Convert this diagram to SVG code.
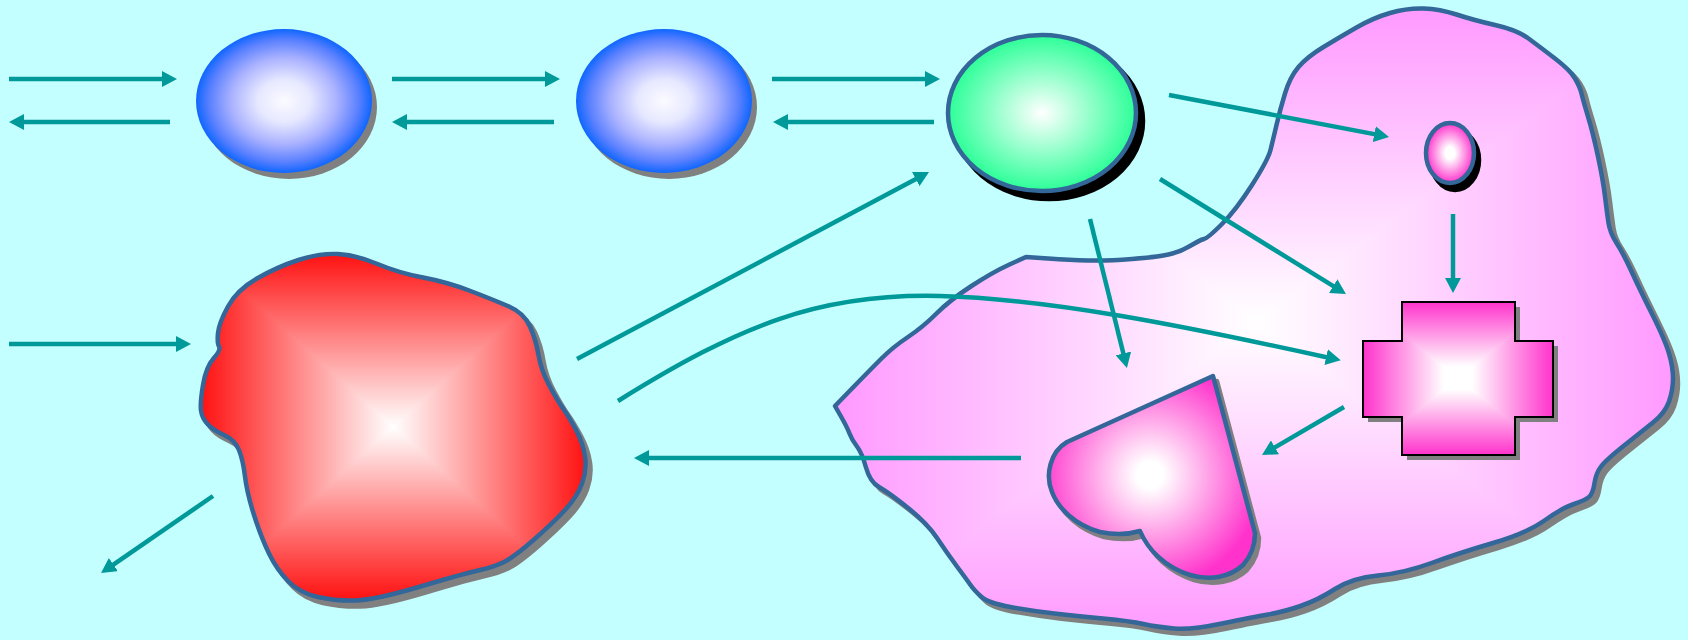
<svg xmlns="http://www.w3.org/2000/svg" xmlns:xlink="http://www.w3.org/1999/xlink" width="1688" height="640" viewBox="0 0 1688 640">
  <style>
    .arrow { fill: none; stroke: #009999; stroke-width: 4.5; marker-end: url(#head); }
    .outline { fill: none; stroke: #336699; stroke-width: 4.5; stroke-linejoin: round; }
    .shade { fill: #808080; stroke: #808080; stroke-width: 4.5; stroke-linejoin: round; }
    .shade-dark { fill: #000000; stroke: #000000; stroke-width: 4.5; }
    .facet { shape-rendering: crispEdges; }
  </style>
  <defs>
    <!-- arrowhead shared by all connectors -->
    <marker id="head" markerUnits="userSpaceOnUse" markerWidth="16" markerHeight="16" refX="4" refY="8" orient="auto">
      <path d="M0,0 L15,8 L0,16 z" fill="#009999"/>
    </marker>

    <!-- radial fills -->
    <radialGradient id="gBlue">
      <stop offset="0" stop-color="#fbfbff"/>
      <stop offset="0.3" stop-color="#e6e8ff"/>
      <stop offset="0.6" stop-color="#aab2ff"/>
      <stop offset="0.85" stop-color="#5a80ff"/>
      <stop offset="1" stop-color="#0f66ff"/>
    </radialGradient>
    <radialGradient id="gGreen">
      <stop offset="0" stop-color="#ffffff"/>
      <stop offset="1" stop-color="#2cff98"/>
    </radialGradient>
    <radialGradient id="gNucleus">
      <stop offset="0" stop-color="#ffffff"/>
      <stop offset="0.2" stop-color="#ffffff"/>
      <stop offset="1" stop-color="#ff33cc"/>
    </radialGradient>
    <radialGradient id="gHeart" gradientUnits="userSpaceOnUse" cx="1150" cy="475" r="112">
      <stop offset="0" stop-color="#ffffff"/>
      <stop offset="0.12" stop-color="#ffffff"/>
      <stop offset="1" stop-color="#ff33cc"/>
    </radialGradient>

    <!-- four-sided "from centre" fills: edge colour fading to white -->
    <linearGradient id="rT" x1="0" y1="0" x2="0" y2="1"><stop offset="0" stop-color="#ff1010"/><stop offset="1" stop-color="#ffffff"/></linearGradient>
    <linearGradient id="rB" x1="0" y1="1" x2="0" y2="0"><stop offset="0" stop-color="#ff1010"/><stop offset="1" stop-color="#ffffff"/></linearGradient>
    <linearGradient id="rL" x1="0" y1="0" x2="1" y2="0"><stop offset="0" stop-color="#ff1010"/><stop offset="1" stop-color="#ffffff"/></linearGradient>
    <linearGradient id="rR" x1="1" y1="0" x2="0" y2="0"><stop offset="0" stop-color="#ff1010"/><stop offset="1" stop-color="#ffffff"/></linearGradient>

    <linearGradient id="pT" x1="0" y1="0" x2="0" y2="1"><stop offset="0" stop-color="#ff99ff"/><stop offset="1" stop-color="#ffffff"/></linearGradient>
    <linearGradient id="pB" x1="0" y1="1" x2="0" y2="0"><stop offset="0" stop-color="#ff99ff"/><stop offset="1" stop-color="#ffffff"/></linearGradient>
    <linearGradient id="pL" x1="0" y1="0" x2="1" y2="0"><stop offset="0" stop-color="#ff99ff"/><stop offset="1" stop-color="#ffffff"/></linearGradient>
    <linearGradient id="pR" x1="1" y1="0" x2="0" y2="0"><stop offset="0" stop-color="#ff99ff"/><stop offset="1" stop-color="#ffffff"/></linearGradient>

    <linearGradient id="mT" x1="0" y1="0" x2="0" y2="1"><stop offset="0" stop-color="#ff33cc"/><stop offset="0.85" stop-color="#ffffff"/></linearGradient>
    <linearGradient id="mB" x1="0" y1="1" x2="0" y2="0"><stop offset="0" stop-color="#ff33cc"/><stop offset="0.85" stop-color="#ffffff"/></linearGradient>
    <linearGradient id="mL" x1="0" y1="0" x2="1" y2="0"><stop offset="0" stop-color="#ff33cc"/><stop offset="0.85" stop-color="#ffffff"/></linearGradient>
    <linearGradient id="mR" x1="1" y1="0" x2="0" y2="0"><stop offset="0" stop-color="#ff33cc"/><stop offset="0.85" stop-color="#ffffff"/></linearGradient>

    <!-- shape outlines (freeform blobs smoothed through edge midpoints) -->
    <path id="redShape" d="M338,254 Q356,255 377.5,264 Q399,273 423,277.5 Q447,282 470.5,291 Q494,300 509,306.5 Q524,313 530,326.5 Q536,340 538.5,355 Q541,370 549,385 Q557,400 563,408.5 Q569,417 576,430 Q583,443 585,456.5 Q587,470 582,483.5 Q577,497 565,510 Q553,523 533.5,540 Q514,557 504,562 Q494,567 480,570 Q466,573 420.5,586.5 Q375,600 355.5,600.5 Q336,601 318,597 Q300,593 288.5,581.5 Q277,570 269,553.5 Q261,537 254,515 Q247,493 245,476.5 Q243,460 239,450 Q235,440 224,435 Q213,430 207.5,424 Q202,418 201,410.5 Q200,403 203,385 Q206,367 213.5,358.5 Q221,350 219,346.5 Q217,343 218,333 Q219,323 228,306.5 Q237,290 257,278.5 Q277,267 298.5,260 Q320,253 338,254 Z"/>
    <path id="pinkShape" d="M1423.5,8.5 Q1440,9 1456.5,14.5 Q1473,20 1495,25 Q1517,30 1528.5,38.5 Q1540,47 1555,58.5 Q1570,70 1575,78.5 Q1580,87 1581.5,93.5 Q1583,100 1588,116.5 Q1593,133 1598,156.5 Q1603,180 1605,196.5 Q1607,213 1608.5,223 Q1610,233 1616.5,243 Q1623,253 1631.5,271.5 Q1640,290 1652.5,315 Q1665,340 1669,353.5 Q1673,367 1673,378.5 Q1673,390 1669,401.5 Q1665,413 1653,422.5 Q1641,432 1623.5,446 Q1606,460 1601,466.5 Q1596,473 1594.5,483 Q1593,493 1589.5,496.5 Q1586,500 1574,504 Q1562,508 1544.5,520.5 Q1527,533 1493,543 Q1459,553 1431.5,563 Q1404,573 1378,575.5 Q1352,578 1335,589 Q1318,600 1300.5,606 Q1283,612 1268,614.5 Q1253,617 1222,623.5 Q1191,630 1174,628.5 Q1157,627 1143.5,624 Q1130,621 1103,618.5 Q1076,616 1054.5,613.5 Q1033,611 1010.5,607 Q988,603 981,596.5 Q974,590 970.5,585 Q967,580 957,566.5 Q947,553 937,538 Q927,523 907.5,507.5 Q888,492 879,487 Q870,482 866,467.5 Q862,453 857,446.5 Q852,440 849.5,433.5 Q847,427 841,416.5 L835,406 L852.5,388 Q870,370 881.5,358.5 Q893,347 908,337 Q923,327 936.5,313.5 Q950,300 971.5,286 Q993,272 1009.5,264.5 L1026,257 L1048,258.5 Q1070,260 1088.5,260.5 Q1107,261 1132,259 Q1157,257 1168.5,254.5 Q1180,252 1190,246 Q1200,240 1204,239 Q1208,238 1222,224 Q1236,210 1252,185 Q1268,160 1270.5,150 Q1273,140 1276.5,125 Q1280,110 1285,93.5 Q1290,77 1298.5,67 Q1307,57 1323.5,47 Q1340,37 1356.5,27.5 Q1373,18 1390,13 Q1407,8 1423.5,8.5 Z"/>
    <path id="heartShape" d="M1213,376 L1067,442 C1050,452 1045,475 1052,492 C1058,508 1075,525 1100,532 C1115,535 1130,534 1140,531 C1148,550 1165,567 1190,575 C1210,581 1230,577 1243,565 C1252,555 1255,545 1255,533 Z"/>
    <polygon id="crossShape" points="1402,302 1515,302 1515,341 1553,341 1553,417 1515,417 1515,455 1402,455 1402,417 1363,417 1363,341 1402,341"/>

    <clipPath id="clipRed"><use xlink:href="#redShape"/></clipPath>
    <clipPath id="clipPink"><use xlink:href="#pinkShape"/></clipPath>
    <clipPath id="clipCross"><use xlink:href="#crossShape"/></clipPath>
  </defs>

  <rect id="background" x="0" y="0" width="1688" height="640" fill="#c4ffff"/>

  <!-- free cells, top row -->
  <g id="blue-cell-1">
    <ellipse cx="289" cy="107" rx="88" ry="72" fill="#808080"/>
    <ellipse cx="284" cy="101" rx="88" ry="72" fill="url(#gBlue)"/>
  </g>
  <g id="blue-cell-2">
    <ellipse cx="669" cy="107" rx="88" ry="72" fill="#808080"/>
    <ellipse cx="664" cy="101" rx="88" ry="72" fill="url(#gBlue)"/>
  </g>
  <g id="green-cell">
    <ellipse class="shade-dark" cx="1049" cy="121" rx="94" ry="78"/>
    <ellipse cx="1042" cy="113" rx="94" ry="78" fill="url(#gGreen)" stroke="#336699" stroke-width="4.5"/>
  </g>

  <!-- large red cell -->
  <g id="red-cell">
    <use xlink:href="#redShape" class="shade" transform="translate(5,6)"/>
    <g clip-path="url(#clipRed)" class="facet">
      <polygon points="200,253 587,253 393,427" fill="url(#rT)"/>
      <polygon points="200,601 587,601 393,427" fill="url(#rB)"/>
      <polygon points="200,253 200,601 393,427" fill="url(#rL)"/>
      <polygon points="587,253 587,601 393,427" fill="url(#rR)"/>
    </g>
    <use xlink:href="#redShape" class="outline"/>
  </g>

  <!-- large pink cell -->
  <g id="pink-cell">
    <use xlink:href="#pinkShape" class="shade" transform="translate(5,5)"/>
    <g clip-path="url(#clipPink)" class="facet">
      <polygon points="835,8 1677,8 1256,322" fill="url(#pT)"/>
      <polygon points="835,637 1677,637 1256,322" fill="url(#pB)"/>
      <polygon points="835,8 835,637 1256,322" fill="url(#pL)"/>
      <polygon points="1677,8 1677,637 1256,322" fill="url(#pR)"/>
    </g>
    <use xlink:href="#pinkShape" class="outline"/>
  </g>

  <g id="nucleus">
    <ellipse class="shade-dark" cx="1455" cy="160" rx="24" ry="30"/>
    <ellipse cx="1450" cy="153" rx="24" ry="30" fill="url(#gNucleus)" stroke="#336699" stroke-width="4.5"/>
  </g>

  <g id="heart">
    <use xlink:href="#heartShape" class="shade" transform="translate(4,5)"/>
    <use xlink:href="#heartShape" fill="url(#gHeart)"/>
    <use xlink:href="#heartShape" class="outline"/>
  </g>

  <g id="cross">
    <use xlink:href="#crossShape" fill="#808080" transform="translate(5,5)"/>
    <g clip-path="url(#clipCross)" class="facet">
      <polygon points="1363,302 1553,302 1458,378" fill="url(#mT)"/>
      <polygon points="1363,455 1553,455 1458,378" fill="url(#mB)"/>
      <polygon points="1363,302 1363,455 1458,378" fill="url(#mL)"/>
      <polygon points="1553,302 1553,455 1458,378" fill="url(#mR)"/>
    </g>
    <use xlink:href="#crossShape" fill="none" stroke="#000000" stroke-width="2"/>
  </g>

  <!-- connectors -->
  <g id="connectors">
    <line class="arrow" x1="9" y1="79" x2="166" y2="79"/>
    <line class="arrow" x1="170" y1="122" x2="20" y2="122"/>
    <line class="arrow" x1="392" y1="79" x2="549" y2="79"/>
    <line class="arrow" x1="554" y1="122" x2="403" y2="122"/>
    <line class="arrow" x1="772" y1="79" x2="929" y2="79"/>
    <line class="arrow" x1="934" y1="122" x2="784" y2="122"/>
    <line class="arrow" x1="1169" y1="95" x2="1378.2" y2="134.9"/>
    <line class="arrow" x1="1453" y1="214" x2="1453" y2="282"/>
    <line class="arrow" x1="1160" y1="179" x2="1336.6" y2="288.2"/>
    <line class="arrow" x1="1090" y1="219" x2="1124.3" y2="357.3"/>
    <line class="arrow" x1="9" y1="344" x2="180" y2="344"/>
    <line class="arrow" x1="213" y1="496" x2="110.1" y2="566.8"/>
    <line class="arrow" x1="577" y1="359" x2="919.3" y2="177.2"/>
    <path class="arrow" d="M618,401 C740,325 820,293 940,296 C1050,299 1180,325 1330,358"/>
    <line class="arrow" x1="1021" y1="458" x2="645" y2="458"/>
    <line class="arrow" x1="1344" y1="407" x2="1271.5" y2="449.4"/>
  </g>
</svg>
